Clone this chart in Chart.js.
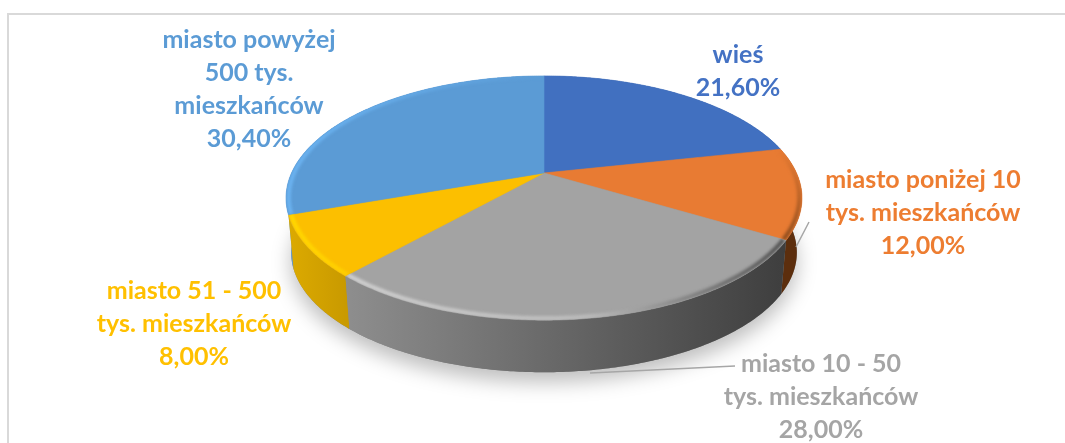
<!DOCTYPE html>
<html><head><meta charset="utf-8">
<style>html,body{margin:0;padding:0;background:#fff}#w{position:relative;width:1065px;height:443px}canvas{display:block}</style>
<script src="https://cdn.jsdelivr.net/npm/chart.js@4/dist/chart.umd.min.js"></script>
</head><body><div id="w"><canvas id="c" width="1065" height="443"></canvas></div>
<script>
const categories = ['wieś','miasto poniżej 10 tys. mieszkańców','miasto 10 - 50 tys. mieszkańców','miasto 51 - 500 tys. mieszkańców','miasto powyżej 500 tys. mieszkańców'];
const shares = [21.6, 12.0, 28.0, 8.0, 30.4];
const sliceColors = ['#4170c0','#e87b33','#a3a3a3','#fcbf00','#5b9bd5'];
const labelColors = ['#4472c4','#ed7d31','#a5a5a5','#ffc000','#5b9bd5'];
const labelLines = [['wieś'],['miasto poniżej 10','tys. mieszkańców'],['miasto 10 - 50','tys. mieszkańców'],['miasto 51 - 500','tys. mieszkańców'],['miasto powyżej','500 tys.','mieszkańców']];
const labelAnchors = [[738,55],[923,180],[821,364],[194,291],[249,40]];
const wallStops = [['#2f5597','#2f5597'],['#7d3f14','#5c2e0d'],['#8e8e8e','#3e3e3e'],['#dcaa00','#c99a00'],['#5b9bd5','#5b9bd5']];
const rimStops = [[null,null],['#e87b33','#8a4a1c'],['#d2d2d2','#4e4e4e'],['#ffd900','#ffd000'],['#5b9bd5','#6cb4f2']];
const P = {cx:544, ay:173, R:252.5, S:117, p:0.205, depth:55, shrink:0.98};
function pt(a, lvl, rho){
  const c=Math.cos(a), s=Math.sin(a), r=rho||1, w=1-P.p*s*r, k=lvl?P.shrink:1;
  return [P.cx+P.R*k*r*c/w, P.ay+(lvl?P.depth:0)+P.S*k*r*s/w];
}
function arcPath(ctx,a0,a1,lvl,rho,move){
  const n=Math.max(2,Math.ceil(Math.abs(a1-a0)/0.01));
  for(let i=0;i<=n;i++){const q=pt(a0+(a1-a0)*i/n,lvl,rho); (i===0&&move)?ctx.moveTo(q[0],q[1]):ctx.lineTo(q[0],q[1]);}
}
function sideGradient(ctx,e,i){
  if(i===1){return ctx.createLinearGradient(0,pt(e.startAngle,0)[1],0,pt(e.endAngle,0)[1]);}
  return ctx.createLinearGradient(pt(e.endAngle,0)[0],0,pt(e.startAngle,0)[0],0);
}
const frame3d = {
  id:'frame3d',
  beforeDraw(chart){
    const x=chart.ctx; x.save(); x.strokeStyle='#d9d9d9'; x.lineWidth=2;
    x.beginPath(); x.moveTo(8,443); x.lineTo(8,14); x.lineTo(1065,14); x.stroke(); x.restore();
  },
  beforeDatasetsDraw(chart){
    const ctx=chart.ctx, arcs=chart.getDatasetMeta(0).data;
    ctx.save(); ctx.shadowColor='rgba(0,0,0,0.26)'; ctx.shadowBlur=20; ctx.shadowOffsetY=10; ctx.fillStyle='#888';
    ctx.beginPath(); arcPath(ctx,0,Math.PI*2,1,1,true); ctx.closePath(); ctx.fill(); ctx.restore();
    const order=arcs.map((e,i)=>i).sort((a,b)=>Math.sin((arcs[a].startAngle+arcs[a].endAngle)/2)-Math.sin((arcs[b].startAngle+arcs[b].endAngle)/2));
    order.forEach(i=>{
      const e=arcs[i], g=sideGradient(ctx,e,i);
      g.addColorStop(0,wallStops[i][0]); g.addColorStop(1,wallStops[i][1]);
      ctx.fillStyle=g; ctx.beginPath(); arcPath(ctx,e.startAngle,e.endAngle,0,1,true); arcPath(ctx,e.endAngle,e.startAngle,1,1,false); ctx.closePath(); ctx.fill();
    });
    arcs.forEach((e,i)=>{
      ctx.fillStyle=e.options.backgroundColor; ctx.strokeStyle=e.options.backgroundColor; ctx.lineWidth=0.6;
      ctx.beginPath(); ctx.moveTo(P.cx,P.ay); arcPath(ctx,e.startAngle,e.endAngle,0,1,false); ctx.closePath(); ctx.fill(); ctx.stroke();
    });
    arcs.forEach((e,i)=>{
      if(!rimStops[i][0])return;
      ctx.save();
      ctx.beginPath(); ctx.moveTo(P.cx,P.ay); arcPath(ctx,e.startAngle,e.endAngle,0,1,false); ctx.closePath(); ctx.clip();
      const g=sideGradient(ctx,e,i);
      g.addColorStop(0,rimStops[i][0]); if(i===2){g.addColorStop(0.55,'#bdbdbd');g.addColorStop(0.8,'#7c7c7c');} g.addColorStop(1,rimStops[i][1]);
      ctx.strokeStyle=g; ctx.lineWidth=4; ctx.filter='blur(1.5px)';
      ctx.beginPath(); arcPath(ctx,e.startAngle,e.endAngle,0,0.99,true); ctx.stroke();
      ctx.restore();
    });
    return false;
  },
  afterDraw(chart){
    const ctx=chart.ctx, d=chart.data.datasets[0].data;
    ctx.save(); ctx.strokeStyle='#a6a6a6'; ctx.lineWidth=1.5;
    ctx.beginPath(); ctx.moveTo(590,373); ctx.lineTo(735,366); ctx.moveTo(796,247); ctx.lineTo(809,222); ctx.stroke();
    ctx.textAlign='center'; ctx.textBaseline='middle'; ctx.font='bold 25px Lato, "Open Sans", sans-serif';
    labelLines.forEach((ls,i)=>{
      ctx.fillStyle=labelColors[i];
      const all=ls.concat([d[i].toFixed(2).replace('.',',')+'%']);
      all.forEach((t,j)=>ctx.fillText(t,labelAnchors[i][0],labelAnchors[i][1]+j*33));
    });
    ctx.restore();
  }
};
new Chart(document.getElementById('c'),{
  type:'pie',
  data:{labels:categories,datasets:[{data:shares,backgroundColor:sliceColors,borderWidth:0}]},
  options:{responsive:false,animation:false,plugins:{legend:{display:false},tooltip:{enabled:false},title:{display:false}}},
  plugins:[frame3d]
});
</script></body></html>
